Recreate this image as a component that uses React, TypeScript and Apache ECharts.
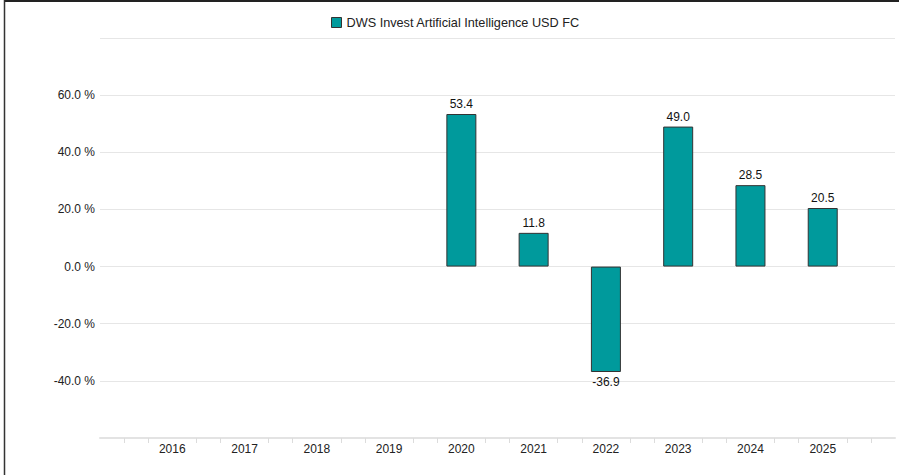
import React, { useEffect, useRef } from "react";
import * as echarts from "echarts";

const seriesName = "DWS Invest Artificial Intelligence USD FC";
const years = [2016, 2017, 2018, 2019, 2020, 2021, 2022, 2023, 2024, 2025];
const values: (number | null)[] = [null, null, null, null, 53.4, 11.8, -36.9, 49.0, 28.5, 20.5];
const yTicks = [-60, -40, -20, 0, 20, 40, 60, 80];
const yLabelled = [-40, -20, 0, 20, 40, 60];

const FONT = "'Liberation Sans', Arial, Helvetica, sans-serif";
const TEAL = "#009a9c";

export default function App() {
  const ref = useRef<HTMLDivElement>(null);
  useEffect(() => {
    document.body.style.margin = "0";
    const chart = echarts.init(ref.current!, null, { renderer: "svg" });
    const data = years
      .map((y, i) => ({ y, v: values[i] }))
      .filter((d) => d.v !== null)
      .map((d) => ({
        value: [d.y, d.v],
        label: { position: (d.v as number) < 0 ? "bottom" : "top" },
      }));
    chart.setOption({
      animation: false,
      textStyle: { fontFamily: FONT },
      legend: {
        top: 11,
        left: 326,
        itemWidth: 10,
        itemHeight: 10,
        itemGap: 10,
        icon: "rect",
        textStyle: { fontSize: 12.7, color: "#222", fontFamily: FONT },
        itemStyle: { borderColor: "#333", borderWidth: 1 },
        data: [seriesName],
      },
      grid: { left: 100, right: 4, top: 38, bottom: 37, containLabel: false },
      xAxis: {
        type: "value",
        min: years[0] - 1,
        max: years[years.length - 1] + 1,
        interval: 1,
        axisLine: { show: true, onZero: false, lineStyle: { color: "#e3e3e3", width: 2 } },
        axisTick: { show: false },
        minorTick: { show: true, splitNumber: 3, length: 5, lineStyle: { color: "#dcdcdc", width: 1 } },
        splitLine: { show: false },
        minorSplitLine: { show: false },
        axisLabel: {
          margin: 5,
          fontSize: 12,
          color: "#222",
          fontFamily: FONT,
          formatter: (v: number) => (years.includes(v) ? String(v) : ""),
        },
      },
      yAxis: {
        type: "value",
        min: yTicks[0],
        max: yTicks[yTicks.length - 1],
        interval: 20,
        axisLine: { show: false },
        axisTick: { show: false },
        splitLine: { show: true, lineStyle: { color: "#e6e6e6", width: 1 } },
        axisLabel: {
          margin: 5,
          fontSize: 12,
          color: "#222",
          fontFamily: FONT,
          formatter: (v: number) => (yLabelled.includes(v) ? v.toFixed(1) + " %" : ""),
        },
      },
      series: [
        {
          name: seriesName,
          type: "bar",
          barWidth: 30,
          data,
          itemStyle: { color: TEAL, borderColor: "#333", borderWidth: 1 },
          label: {
            show: true,
            distance: 4,
            fontSize: 12,
            color: "#111",
            fontFamily: FONT,
            formatter: (p: any) => (p.value[1] as number).toFixed(1),
          },
        },
      ],
      graphic: [
        { type: "line", shape: { x1: 4, y1: 1, x2: 899, y2: 1 }, style: { stroke: "#222", lineWidth: 2 } },
        { type: "line", shape: { x1: 4.5, y1: 0, x2: 4.5, y2: 475 }, style: { stroke: "#333", lineWidth: 1.5 } },
      ],
    });
    return () => chart.dispose();
  }, []);
  return <div ref={ref} style={{ width: 899, height: 475 }} />;
}
